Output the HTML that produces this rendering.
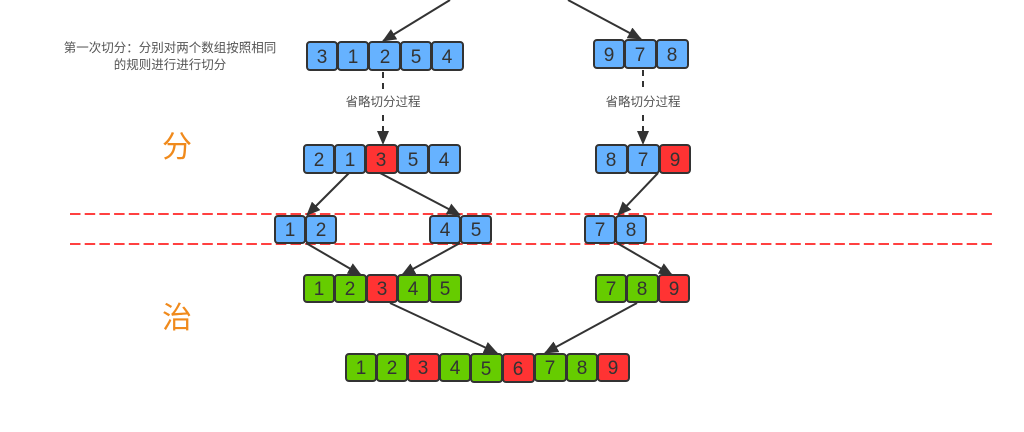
<!DOCTYPE html>
<html><head><meta charset="utf-8"><style>
html,body{margin:0;padding:0;background:#fff;}
svg{display:block;}
text{font-family:"Liberation Sans","Noto Sans CJK SC",sans-serif;}
</style></head><body>
<svg width="1024" height="432" viewBox="0 0 1024 432" xmlns="http://www.w3.org/2000/svg">
<defs>
<marker id="ah2" markerWidth="14" markerHeight="12" refX="13" refY="6" orient="auto" markerUnits="userSpaceOnUse">
<path d="M0,0 L14,6 L0,12 Z" fill="#333"/>
</marker>
</defs>
<rect width="1024" height="432" fill="#fff"/>
<line x1="70" y1="214" x2="996" y2="214" stroke="#ff4040" stroke-width="2" stroke-dasharray="10.5,4.2"/>
<line x1="70" y1="244" x2="996" y2="244" stroke="#ff4040" stroke-width="2" stroke-dasharray="10.5,4.2"/>
<text x="170" y="52" font-size="12.5" fill="#555" text-anchor="middle">第一次切分：分别对两个数组按照相同</text>
<text x="170" y="69" font-size="12.5" fill="#555" text-anchor="middle">的规则进行进行切分</text>
<text x="177" y="157" font-size="30" fill="#f08a1c" text-anchor="middle">分</text>
<text x="177" y="328" font-size="30" fill="#f08a1c" text-anchor="middle">治</text>
<text x="383" y="106" font-size="12.5" fill="#555" text-anchor="middle">省略切分过程</text>
<text x="643" y="106" font-size="12.5" fill="#555" text-anchor="middle">省略切分过程</text>
<g stroke="#333" stroke-width="2" fill="none">
<line x1="450" y1="0" x2="383" y2="41" marker-end="url(#ah2)"/>
<line x1="568" y1="0" x2="641" y2="39" marker-end="url(#ah2)"/>
<line x1="383" y1="72" x2="383" y2="90" stroke-dasharray="6,5"/>
<line x1="383" y1="115" x2="383" y2="144" stroke-dasharray="6,5" marker-end="url(#ah2)"/>
<line x1="643" y1="70" x2="643" y2="90" stroke-dasharray="6,5"/>
<line x1="643" y1="115" x2="643" y2="144" stroke-dasharray="6,5" marker-end="url(#ah2)"/>
<line x1="349" y1="173" x2="307" y2="215" marker-end="url(#ah2)"/>
<line x1="380" y1="173" x2="460" y2="215" marker-end="url(#ah2)"/>
<line x1="658" y1="173" x2="618" y2="215" marker-end="url(#ah2)"/>
<line x1="306" y1="243" x2="361" y2="275" marker-end="url(#ah2)"/>
<line x1="460" y1="243" x2="402" y2="275" marker-end="url(#ah2)"/>
<line x1="617" y1="243" x2="672" y2="275" marker-end="url(#ah2)"/>
<line x1="390" y1="303" x2="497" y2="353" marker-end="url(#ah2)"/>
<line x1="637" y1="303" x2="545" y2="353" marker-end="url(#ah2)"/>
</g>
<g stroke="#333" stroke-width="2">
<rect x="307" y="42" width="30" height="28" rx="3" fill="#66b2ff"/>
<rect x="338" y="42" width="30" height="28" rx="3" fill="#66b2ff"/>
<rect x="369" y="42" width="31" height="28" rx="3" fill="#66b2ff"/>
<rect x="401" y="42" width="30" height="28" rx="3" fill="#66b2ff"/>
<rect x="432" y="42" width="31" height="28" rx="3" fill="#66b2ff"/>
<rect x="594" y="40" width="30" height="28" rx="3" fill="#66b2ff"/>
<rect x="625" y="40" width="31" height="28" rx="3" fill="#66b2ff"/>
<rect x="657" y="40" width="31" height="28" rx="3" fill="#66b2ff"/>
<rect x="304" y="145" width="30" height="28" rx="3" fill="#66b2ff"/>
<rect x="335" y="145" width="30" height="28" rx="3" fill="#66b2ff"/>
<rect x="366" y="145" width="31" height="28" rx="3" fill="#ff3333"/>
<rect x="398" y="145" width="30" height="28" rx="3" fill="#66b2ff"/>
<rect x="429" y="145" width="31" height="28" rx="3" fill="#66b2ff"/>
<rect x="596" y="145" width="31" height="28" rx="3" fill="#66b2ff"/>
<rect x="628" y="145" width="31" height="28" rx="3" fill="#66b2ff"/>
<rect x="660" y="145" width="30" height="28" rx="3" fill="#ff3333"/>
<rect x="275" y="216" width="30" height="27" rx="3" fill="#66b2ff"/>
<rect x="306" y="216" width="30" height="27" rx="3" fill="#66b2ff"/>
<rect x="430" y="216" width="30" height="27" rx="3" fill="#66b2ff"/>
<rect x="461" y="216" width="30" height="27" rx="3" fill="#66b2ff"/>
<rect x="585" y="216" width="30" height="27" rx="3" fill="#66b2ff"/>
<rect x="616" y="216" width="30" height="27" rx="3" fill="#66b2ff"/>
<rect x="304" y="275" width="30" height="27" rx="3" fill="#66cc00"/>
<rect x="335" y="275" width="31" height="27" rx="3" fill="#66cc00"/>
<rect x="367" y="275" width="30" height="27" rx="3" fill="#ff3333"/>
<rect x="398" y="275" width="31" height="27" rx="3" fill="#66cc00"/>
<rect x="430" y="275" width="31" height="27" rx="3" fill="#66cc00"/>
<rect x="596" y="275" width="30" height="27" rx="3" fill="#66cc00"/>
<rect x="627" y="275" width="31" height="27" rx="3" fill="#66cc00"/>
<rect x="659" y="275" width="30" height="27" rx="3" fill="#ff3333"/>
<rect x="346" y="354" width="30" height="27" rx="3" fill="#66cc00"/>
<rect x="377" y="354" width="30" height="27" rx="3" fill="#66cc00"/>
<rect x="408" y="354" width="31" height="27" rx="3" fill="#ff3333"/>
<rect x="440" y="354" width="30" height="27" rx="3" fill="#66cc00"/>
<rect x="471" y="354" width="31" height="28" rx="3" fill="#66cc00"/>
<rect x="503" y="354" width="31" height="28" rx="3" fill="#ff3333"/>
<rect x="535" y="354" width="31" height="27" rx="3" fill="#66cc00"/>
<rect x="567" y="354" width="30" height="27" rx="3" fill="#66cc00"/>
<rect x="598" y="354" width="31" height="27" rx="3" fill="#ff3333"/>
</g>
<g font-size="19" text-anchor="middle" fill="#333">
<text x="322" y="63">3</text><text x="353" y="63">1</text><text x="385" y="63">2</text><text x="416" y="63">5</text><text x="447" y="63">4</text>
<text x="609" y="61">9</text><text x="640" y="61">7</text><text x="672" y="61">8</text>
<text x="319" y="166">2</text><text x="350" y="166">1</text><text x="381" y="166">3</text><text x="413" y="166">5</text><text x="444" y="166">4</text>
<text x="611" y="166">8</text><text x="643" y="166">7</text><text x="675" y="166">9</text>
<text x="290" y="236">1</text><text x="321" y="236">2</text><text x="445" y="236">4</text><text x="476" y="236">5</text><text x="600" y="236">7</text><text x="631" y="236">8</text>
<text x="319" y="295">1</text><text x="350" y="295">2</text><text x="382" y="295">3</text><text x="413" y="295">4</text><text x="445" y="295">5</text>
<text x="611" y="295">7</text><text x="642" y="295">8</text><text x="674" y="295">9</text>
<text x="361" y="374">1</text><text x="392" y="374">2</text><text x="423" y="374">3</text><text x="455" y="374">4</text><text x="486" y="375">5</text><text x="518" y="375">6</text><text x="550" y="374">7</text><text x="582" y="374">8</text><text x="613" y="374">9</text>
</g>
</svg>
</body></html>
